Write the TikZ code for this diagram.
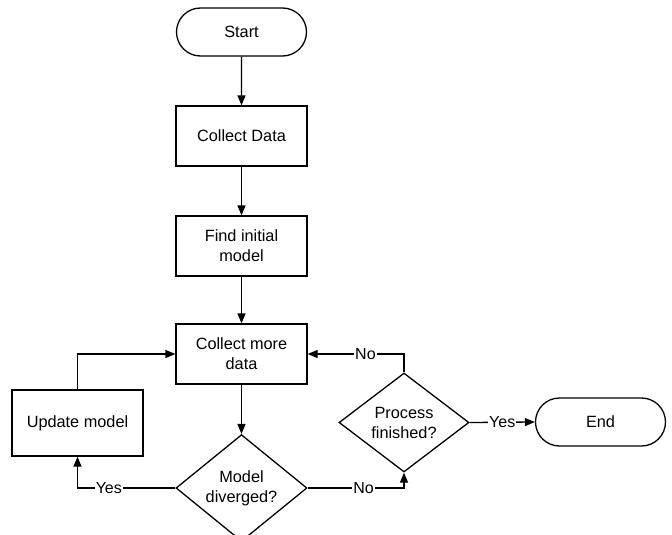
\documentclass[tikz,border=0pt]{standalone}
\usepackage{fontspec}
\setmainfont{Liberation Sans}
\usetikzlibrary{shapes.geometric,shapes.misc,arrows.meta}
\begin{document}
\begin{tikzpicture}[x=1pt,y=-1pt,
  every node/.style={font=\fontsize{16.3}{20}\selectfont, align=center, line width=1.3pt},
  term/.style={draw, rounded rectangle, minimum width=130pt, minimum height=48pt, inner sep=0pt},
  proc/.style={draw, rectangle, minimum width=131pt, minimum height=60pt, inner sep=0pt},
  dec/.style={draw, diamond, minimum width=131pt, minimum height=98pt, inner sep=0pt},
  conn/.style={line width=1.3pt, -{Triangle[length=10pt,width=8pt]}},
  lab/.style={fill=white, inner sep=1pt, font=\fontsize{16}{18}\selectfont}
]
\useasboundingbox (0,0) rectangle (672,535);
\node[term] (start) at (241.5,32) {Start};
\node[proc] (cd) at (241.5,136) {Collect Data};
\node[proc] (fim) at (241.5,246) {Find initial\\model};
\node[proc] (cmd) at (241.5,354) {Collect more\\data};
\node[proc, minimum height=66pt] (um) at (77.5,423) {Update model};
\node[dec] (md) at (241.5,488) {Model\\diverged?};
\node[dec, minimum height=99pt, minimum width=130pt] (pf) at (404,422.5) {Process\\finished?};
\node[term] (end) at (600.5,422) {End};

\draw[conn] (start) -- (cd);
\draw[conn] (cd) -- (fim);
\draw[conn] (fim) -- (cmd);
\draw[conn] (cmd) -- (md);
\draw[conn] (um.north) |- (cmd.west);
\draw[conn] (md.west) -| node[lab, pos=0.34] {Yes} (um.south);
\draw[conn] (md.east) -| node[lab, pos=0.29] {No} (pf.south);
\draw[conn] (pf.north) |- node[lab, pos=0.7] {No} (cmd.east);
\draw[conn] (pf.east) -- node[lab, pos=0.5] {Yes} (end.west);
\end{tikzpicture}
\end{document}
